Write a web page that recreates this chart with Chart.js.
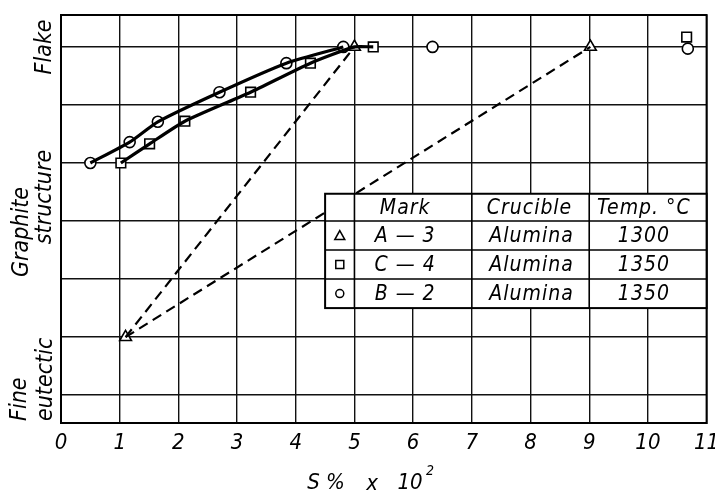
<!DOCTYPE html>
<html>
<head>
<meta charset="utf-8">
<script src="https://cdn.jsdelivr.net/npm/chart.js@4.4.1/dist/chart.umd.min.js"></script>
<style>
  html, body { margin: 0; padding: 0; background: #fff; }
  #wrap { width: 715px; height: 494px; }
</style>
</head>
<body>
<div id="wrap"><canvas id="c" width="715" height="494"></canvas></div>
<script>
// ---------------- DATA ----------------
// x: S% x 10^2 ; y: graphite structure grade (0 = fine eutectic ... 6 = flake)
const xTickValues = [0, 1, 2, 3, 4, 5, 6, 7, 8, 9, 10, 11];
const xTickLabels = ['0', '1', '2', '3', '4', '5', '6', '7', '8', '9', '10', '11'];
const yGridValues = [0, 1, 2, 3, 4, 5, 6];

// B-2 (circles), connected curve
const b2CurveX = [0.5, 1.17, 1.65, 2.70, 3.84, 4.81];
const b2CurveY = [4.0, 4.36, 4.71, 5.22, 5.72, 6.0];
// B-2 isolated points
const b2OtherX = [6.33, 10.68];
const b2OtherY = [6.0, 5.97];

// C-4 (squares), connected curve
const c4CurveX = [1.02, 1.51, 2.11, 3.23, 4.25, 5.32];
const c4CurveY = [4.0, 4.33, 4.72, 5.22, 5.72, 6.0];
// C-4 isolated point
const c4OtherX = [10.66];
const c4OtherY = [6.17];

// A-3 (triangles): start point, then two end points joined by dashed lines
const a3X = [1.1, 5.0, 9.02];
const a3Y = [1.0, 6.0, 6.0];

// Y-axis category labels
const yLabelFlake = 'Flake';
const yLabelGraphite = ['Graphite', 'structure'];
const yLabelFine = ['Fine', 'eutectic'];
const xAxisTitle = ['S %', 'x', '10', '2'];

// Legend table
const tableHeader = ['Mark', 'Crucible', 'Temp. °C'];
const tableMarks = ['A — 3', 'C — 4', 'B — 2'];
const tableCrucibles = ['Alumina', 'Alumina', 'Alumina'];
const tableTemps = ['1300', '1350', '1350'];
const tableSymbols = ['triangle', 'rect', 'circle'];

// ---------------- BUILD ----------------
const pts = (xs, ys) => xs.map((x, i) => ({ x: x, y: ys[i] }));
const FONT = '"DejaVu Sans Condensed", "DejaVu Sans", sans-serif';

// C-4 curve runs into the A-3 apex at (5,6) before its last point
const c4Line = pts(c4CurveX, c4CurveY).concat([{ x: a3X[1], y: a3Y[1] }]).sort((a, b) => a.x - b.x);

const markerBase = {
  showLine: false,
  backgroundColor: '#fff',
  borderColor: '#000',
  pointBorderWidth: 1.6,
  pointBackgroundColor: '#fff',
  pointBorderColor: '#000'
};

const datasets = [
  // dashed A-3 lines
  { data: [pts(a3X, a3Y)[0], pts(a3X, a3Y)[1]], showLine: true, borderColor: '#000', borderWidth: 2.2, borderDash: [10, 6], pointRadius: 0 },
  { data: [pts(a3X, a3Y)[0], pts(a3X, a3Y)[2]], showLine: true, borderColor: '#000', borderWidth: 2.2, borderDash: [10, 6], pointRadius: 0 },
  // solid curves
  { data: pts(b2CurveX, b2CurveY), showLine: true, borderColor: '#000', borderWidth: 3.2, tension: 0.2, pointRadius: 0 },
  { data: c4Line, showLine: true, borderColor: '#000', borderWidth: 3.2, tension: 0.2, pointRadius: 0 },
  // markers
  Object.assign({ data: pts(a3X, a3Y), pointStyle: 'triangle', pointRadius: 6.8 }, markerBase),
  Object.assign({ data: pts(c4CurveX, c4CurveY).concat(pts(c4OtherX, c4OtherY)), pointStyle: 'rect', pointRadius: 6.8 }, markerBase),
  Object.assign({ data: pts(b2CurveX, b2CurveY).concat(pts(b2OtherX, b2OtherY)), pointStyle: 'circle', pointRadius: 5.5 }, markerBase)
];

function drawMarker(ctx, style, x, y) {
  ctx.save();
  ctx.lineWidth = 1.5;
  ctx.strokeStyle = '#000';
  ctx.fillStyle = '#fff';
  ctx.beginPath();
  if (style === 'circle') {
    ctx.arc(x, y, 4, 0, Math.PI * 2);
  } else if (style === 'rect') {
    ctx.rect(x - 4, y - 4, 8, 8);
  } else {
    ctx.moveTo(x, y - 5);
    ctx.lineTo(x + 5, y + 4);
    ctx.lineTo(x - 5, y + 4);
    ctx.closePath();
  }
  ctx.fill();
  ctx.stroke();
  ctx.restore();
}

const decorPlugin = {
  id: 'decor',
  afterDatasetsDraw(chart) {
    const ctx = chart.ctx;
    const xs = chart.scales.x, ys = chart.scales.y;
    const area = chart.chartArea;
    ctx.save();
    // frame
    ctx.strokeStyle = '#000';
    ctx.lineWidth = 2;
    ctx.strokeRect(area.left, area.top, area.right - area.left, area.bottom - area.top);

    // ---- legend table ----
    const colX = [4.5, 5.0, 7.0, 9.0, 11].map(v => xs.getPixelForValue(v));
    const rowY = [3.47, 3.0, 2.5, 2.0, 1.5].map(v => ys.getPixelForValue(v));
    ctx.fillStyle = '#fff';
    ctx.fillRect(colX[0], rowY[0], colX[4] - colX[0], rowY[4] - rowY[0]);
    ctx.strokeStyle = '#000';
    ctx.lineWidth = 2;
    ctx.strokeRect(colX[0], rowY[0], colX[4] - colX[0], rowY[4] - rowY[0]);
    ctx.lineWidth = 1.6;
    ctx.beginPath();
    for (let i = 1; i < 4; i++) { ctx.moveTo(colX[i], rowY[0]); ctx.lineTo(colX[i], rowY[4]); }
    for (let j = 1; j < 4; j++) { ctx.moveTo(colX[0], rowY[j]); ctx.lineTo(colX[4], rowY[j]); }
    ctx.stroke();

    ctx.fillStyle = '#000';
    ctx.textAlign = 'center';
    ctx.textBaseline = 'middle';
    ctx.font = 'italic 21px ' + FONT;
    if ('letterSpacing' in ctx) ctx.letterSpacing = '1px';
    const cx = [(colX[1] + colX[2]) / 2 - 8, (colX[2] + colX[3]) / 2 - 1, (colX[3] + colX[4]) / 2 - 4];
    const hy = (rowY[0] + rowY[1]) / 2;
    tableHeader.forEach((t, i) => ctx.fillText(t, cx[i], hy + 1));
    for (let r = 0; r < 3; r++) {
      const y = (rowY[r + 1] + rowY[r + 2]) / 2 + 1;
      ctx.fillText(tableMarks[r], cx[0], y);
      ctx.fillText(tableCrucibles[r], cx[1] + 2, y);
      ctx.fillText(tableTemps[r], cx[2], y);
      drawMarker(ctx, tableSymbols[r], (colX[0] + colX[1]) / 2, y - 1);
    }
    if ('letterSpacing' in ctx) ctx.letterSpacing = '0px';

    // ---- y category labels (rotated) ----
    const rot = (text, x, y, align) => {
      ctx.save();
      ctx.translate(x, y);
      ctx.rotate(-Math.PI / 2);
      ctx.textAlign = align || 'center';
      ctx.textBaseline = 'middle';
      ctx.fillText(text, 0, 0);
      ctx.restore();
    };
    ctx.font = 'italic 23px ' + FONT;
    rot(yLabelFlake, 45, ys.getPixelForValue(6));
    rot(yLabelGraphite[0], 22, 232);
    rot(yLabelGraphite[1], 45, 197);
    rot(yLabelFine[0], 20, 421, 'left');
    rot(yLabelFine[1], 46, 421, 'left');

    // ---- x axis title ----
    ctx.font = 'italic 22px ' + FONT;
    ctx.textAlign = 'center';
    ctx.fillText(xAxisTitle[0], 326, 483);
    ctx.fillText(xAxisTitle[1], 372, 484);
    ctx.fillText(xAxisTitle[2], 410, 483);
    ctx.font = 'italic 14px ' + FONT;
    ctx.fillText(xAxisTitle[3], 430, 471);
    ctx.restore();
  }
};

new Chart(document.getElementById('c'), {
  type: 'scatter',
  data: { datasets: datasets },
  options: {
    responsive: false,
    animation: false,
    layout: { padding: { top: 15, right: 7, left: 0, bottom: 0 } },
    plugins: { legend: { display: false }, tooltip: { enabled: false }, title: { display: false } },
    scales: {
      x: {
        type: 'linear', min: 0, max: 11,
        afterBuildTicks: s => { s.ticks = xTickValues.map(v => ({ value: v })); },
        afterFit: s => { s.height = 71; s.paddingLeft = 0; s.paddingRight = 0; },
        ticks: {
          callback: (v, i) => xTickLabels[i],
          color: '#000', padding: 7, maxRotation: 0, autoSkip: false,
          font: { family: FONT, size: 22, style: 'italic' }
        },
        grid: { color: '#111', lineWidth: 1.4, drawTicks: false },
        border: { display: true, color: '#000', width: 2 }
      },
      y: {
        type: 'linear', min: -0.48, max: 6.55,
        afterBuildTicks: s => { s.ticks = yGridValues.map(v => ({ value: v })); },
        afterFit: s => { s.width = 61; s.paddingTop = 0; s.paddingBottom = 0; },
        ticks: { display: false },
        grid: { color: '#111', lineWidth: 1.4, drawTicks: false },
        border: { display: true, color: '#000', width: 2 }
      }
    }
  },
  plugins: [decorPlugin]
});
</script>
</body>
</html>
